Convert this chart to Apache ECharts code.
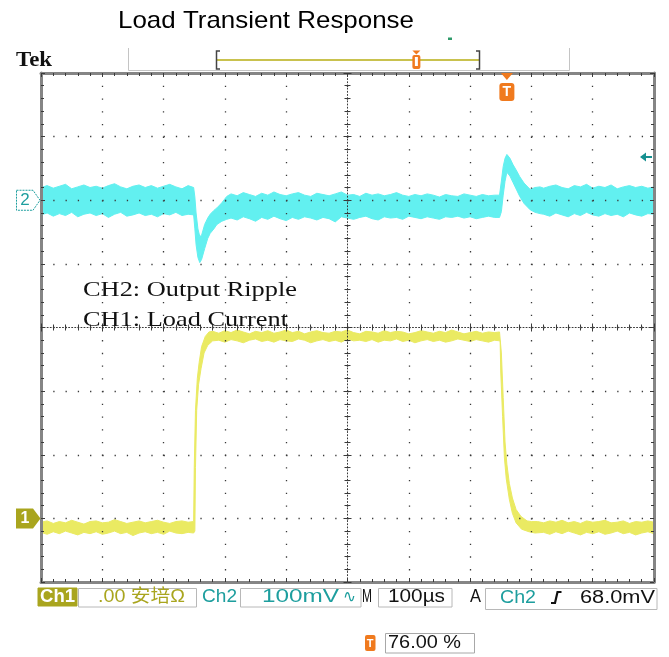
<!DOCTYPE html>
<html>
<head>
<meta charset="utf-8">
<title>Load Transient Response</title>
<script src="https://cdn.jsdelivr.net/npm/echarts@6/dist/echarts.min.js"></script>
<style>
  html, body { margin: 0; padding: 0; background: #ffffff; }
  #scope { width: 669px; height: 657px; }
</style>
</head>
<body>
<div id="scope"></div>
<script>
// ---- Horizontal: 10 divisions at 100 µs/div ----
const timeStart = 0, timeEnd = 1000, timePerDiv = 100;
// ---- Graticule: 8 vertical divisions around the centre line ----
const divMin = -4, divMax = 4;
// ---- CH2 (output ripple), 100 mV/div, ground marker 2 div above centre ----
const ch2Min = -600, ch2Max = 200;
// ---- CH1 (load current) in divisions, ground marker 3 div below centre ----
const ch1Min = -1, ch1Max = 7;

const triggerPercent = 76;   // trigger point position in the record, %
const triggerLevel = 68.0;   // CH2 trigger level, mV

const ch1ScaleText = '.00 安培Ω';
const ch2ScaleText = '100mV';
const timeScaleText = '100µs';

// CH2 trace envelope (µs, mV)
const ch2Time = [
  0, 10, 20, 30, 40, 50, 60, 70, 80, 90, 100, 110, 120, 130, 140, 150, 160, 170, 180, 190, 200, 210, 220, 230, 240, 249,
  251, 253, 256, 259, 262, 267, 272, 276, 282, 287, 295, 303,
  310, 320, 330, 340, 350, 360, 370, 380, 390, 400, 410, 420, 430, 440, 450, 460, 470, 480, 490, 500, 510, 520,
  530, 540, 550, 560, 570, 580, 590, 600, 610, 620, 630, 640, 650, 660, 670, 680, 690, 700, 710, 720, 730, 740, 748,
  751, 754, 757, 760, 765, 770, 776, 781, 788, 798, 806, 814,
  820, 830, 840, 850, 860, 870, 880, 890, 900, 910, 920, 930, 940, 950, 960, 970, 980, 990, 1000
];
const ch2High = [
  20, 23, 19, 22, 25, 18, 21, 24, 20, 22, 19, 23, 26, 21, 18, 22, 24, 20, 23, 19, 22, 25, 21, 18, 23, 20,
  5, -20, -45, -57, -55, -38, -28, -22, -16, -12, -4, 6,
  10, 7, 12, 9, 6, 11, 8, 13, 9, 7, 10, 12, 8, 6, 11, 9, 7, 10, 13, 8, 9, 6,
  11, 8, 10, 7, 9, 12, 8, 6, 9, 7, 10, 8, 5, 9, 7, 6, 10, 8, 6, 9, 7, 8, 8,
  30, 53, 66, 72, 66, 56, 46, 37, 27, 17, 20, 21,
  19, 22, 24, 20, 18, 23, 21, 25, 19, 22, 20, 24, 18, 21, 23, 20, 22, 19, 21
];
const ch2Low = [
  -23, -20, -25, -21, -24, -19, -26, -22, -20, -24, -21, -27, -22, -19, -25, -23, -20, -24, -22, -26, -21, -23, -19, -24, -22, -23,
  -45, -70, -90, -98, -93, -76, -60, -52, -45, -38, -33, -30,
  -28, -31, -26, -29, -33, -27, -30, -25, -29, -32, -27, -30, -26, -28, -31, -27, -29, -34, -26, -28, -30, -27,
  -25, -29, -31, -26, -28, -27, -30, -25, -27, -29, -26, -28, -30, -26, -27, -25, -28, -26, -29, -27, -25, -27, -27,
  -18, 8, 30, 44, 38, 28, 16, 6, -5, -15, -19, -21,
  -22, -25, -20, -23, -26, -21, -24, -19, -23, -25, -21, -24, -22, -26, -20, -23, -25, -21, -22
];

// CH1 trace envelope (µs, divisions)
const ch1HighTime = [
  0, 10, 20, 30, 40, 50, 60, 70, 80, 90, 100, 110, 120, 130, 140, 150, 160, 170, 180, 190, 200, 210, 220, 230, 240,
  249, 250, 252, 255, 258, 262, 268, 274,
  280, 290, 300, 310, 320, 330, 340, 350, 360, 370, 380, 390, 400, 410, 420, 430, 440, 450, 460, 470, 480, 490, 500, 510,
  520, 530, 540, 550, 560, 570, 580, 590, 600, 610, 620, 630, 640, 650, 660, 670, 680, 690, 700, 710, 720, 730, 740,
  748, 751, 754, 757, 760, 764, 769, 775, 783, 793, 800,
  810, 820, 830, 840, 850, 860, 870, 880, 890, 900, 910, 920, 930, 940, 950, 960, 970, 980, 990, 1000
];
const ch1High = [
  -0.06, -0.04, -0.08, -0.05, -0.07, -0.03, -0.06, -0.09, -0.05, -0.04, -0.07, -0.06, -0.02, -0.05, -0.08, -0.06, -0.04, -0.07, -0.05, -0.03, -0.06, -0.08, -0.05, -0.04, -0.06,
  -0.05, 0.8, 1.7, 2.2, 2.45, 2.7, 2.86, 2.93,
  2.94, 2.91, 2.95, 2.92, 2.96, 2.93, 2.9, 2.94, 2.92, 2.95, 2.91, 2.93, 2.96, 2.92, 2.94, 2.9, 2.93, 2.95, 2.92, 2.91, 2.94, 2.93, 2.96, 2.92,
  2.9, 2.94, 2.93, 2.91, 2.95, 2.92, 2.94, 2.93, 2.9, 2.92, 2.95, 2.93, 2.91, 2.94, 2.92, 2.96, 2.93, 2.9, 2.92, 2.94, 2.91, 2.93, 2.92,
  2.93, 2.6, 1.9, 1.2, 0.85, 0.55, 0.32, 0.14, 0.03, -0.04, -0.05,
  -0.05, -0.07, -0.04, -0.06, -0.03, -0.07, -0.05, -0.08, -0.04, -0.06, -0.05, -0.03, -0.07, -0.06, -0.04, -0.08, -0.05, -0.06, -0.04, -0.06
];
const ch1LowTime = [
  0, 10, 20, 30, 40, 50, 60, 70, 80, 90, 100, 110, 120, 130, 140, 150, 160, 170, 180, 190, 200, 210, 220, 230, 240,
  249, 251, 252, 254, 257, 261, 266, 272, 280,
  290, 300, 310, 320, 330, 340, 350, 360, 370, 380, 390, 400, 410, 420, 430, 440, 450, 460, 470, 480, 490, 500, 510,
  520, 530, 540, 550, 560, 570, 580, 590, 600, 610, 620, 630, 640, 650, 660, 670, 680, 690, 700, 710, 720, 730, 740,
  749, 750, 753, 756, 759, 764, 769, 775, 784, 796, 806,
  820, 830, 840, 850, 860, 870, 880, 890, 900, 910, 920, 930, 940, 950, 960, 970, 980, 990, 1000
];
const ch1Low = [
  -0.22, -0.25, -0.21, -0.24, -0.2, -0.23, -0.26, -0.22, -0.24, -0.21, -0.25, -0.23, -0.2, -0.24, -0.22, -0.27, -0.23, -0.21, -0.24, -0.22, -0.25, -0.2, -0.23, -0.24, -0.22,
  -0.23, -0.2, 0.8, 1.7, 2.1, 2.35, 2.6, 2.72, 2.79,
  2.8, 2.77, 2.81, 2.79, 2.76, 2.8, 2.82, 2.78, 2.8, 2.77, 2.81, 2.79, 2.78, 2.82, 2.8, 2.76, 2.79, 2.81, 2.78, 2.8, 2.77, 2.82, 2.79,
  2.8, 2.78, 2.81, 2.77, 2.8, 2.79, 2.82, 2.78, 2.8, 2.76, 2.79, 2.81, 2.78, 2.8, 2.77, 2.79, 2.82, 2.8, 2.78, 2.81, 2.79, 2.77, 2.8,
  2.79, 2.3, 1.6, 0.95, 0.62, 0.3, 0.08, -0.07, -0.17, -0.21, -0.23,
  -0.22, -0.25, -0.21, -0.24, -0.2, -0.23, -0.26, -0.22, -0.24, -0.21, -0.25, -0.23, -0.2, -0.24, -0.22, -0.26, -0.23, -0.21, -0.24
];

// ---- colours ----
const CYAN = '#62f0f0';
const YELLOW = '#eaea62';
const TEAL = '#1d9e9e';
const OLIVE = '#a9a51e';
const ORANGE = '#f07a1e';
const DOT = '#3a3a3a';
const SANS = "'Liberation Sans', Arial, 'DejaVu Sans', 'Noto Sans CJK SC', sans-serif";
const SERIF = "'Liberation Serif', 'Times New Roman', serif";

const frameLine = { show: true, onZero: false, lineStyle: { color: '#858585', width: 3 } };
const tickIn = { show: true, inside: true, length: 4, lineStyle: { color: DOT, width: 1 } };
const tickOut = { show: true, inside: false, length: 4, lineStyle: { color: DOT, width: 1 } };
const minor = { show: true, splitNumber: 5, length: 3, lineStyle: { color: DOT, width: 1 } };

function xAx(extra) {
  return Object.assign({
    type: 'value', min: timeStart, max: timeEnd, interval: timePerDiv, z: 5,
    axisLabel: { show: false }, splitLine: { show: false },
    axisTick: { show: false }, minorTick: { show: false },
    axisLine: { show: false, onZero: false }
  }, extra);
}
function yAx(extra) {
  return Object.assign({
    type: 'value', min: divMin, max: divMax, interval: 1, z: 5,
    axisLabel: { show: false }, splitLine: { show: false },
    axisTick: { show: false }, minorTick: { show: false },
    axisLine: { show: false, onZero: false }
  }, extra);
}

// Noise band of a trace: upper envelope left to right, lower envelope back
function trace(name, upT, upV, loT, loV, yIdx, color) {
  return {
    type: 'custom', name: name, xAxisIndex: 0, yAxisIndex: yIdx, clip: true, z: 2,
    data: upT.map((t, i) => [t, upV[i]]),
    renderItem: function (params, api) {
      if (params.dataIndex !== 0) return null;
      const pts = [];
      for (let i = 0; i < upT.length; i++) pts.push(api.coord([upT[i], upV[i]]));
      for (let i = loT.length - 1; i >= 0; i--) pts.push(api.coord([loT[i], loV[i]]));
      return { type: 'polygon', shape: { points: pts }, style: { fill: color, stroke: color, lineWidth: 1 } };
    }
  };
}

const option = {
  animation: false,
  backgroundColor: '#ffffff',
  grid: { left: 41, top: 73, width: 613, height: 509, show: false },
  xAxis: [
    xAx({ position: 'bottom', axisLine: frameLine, axisTick: tickIn, minorTick: minor,
          splitLine: { show: true, lineStyle: { color: DOT, width: 1.3, type: [1.3, 11.42] } } }),
    xAx({ position: 'top', axisLine: frameLine, axisTick: tickIn, minorTick: minor }),
    xAx({ position: 'bottom', offset: -254.5,
          axisLine: { show: true, onZero: false, lineStyle: { color: DOT, width: 1, type: [1, 2.07] } },
          axisTick: tickIn, minorTick: minor }),
    xAx({ position: 'bottom', offset: -254.5, axisTick: tickOut, minorTick: minor })
  ],
  yAxis: [
    yAx({ position: 'left', axisLine: frameLine, axisTick: tickIn, minorTick: minor,
          splitLine: { show: true, lineStyle: { color: DOT, width: 1.3, type: [1.3, 10.96] } } }),
    yAx({ position: 'right', axisLine: frameLine, axisTick: tickIn, minorTick: minor }),
    yAx({ position: 'left', offset: -306.5,
          axisLine: { show: true, onZero: false, lineStyle: { color: DOT, width: 1, type: [1, 2.18] } },
          axisTick: tickIn, minorTick: minor }),
    yAx({ position: 'left', offset: -306.5, axisTick: tickOut, minorTick: minor }),
    { type: 'value', min: ch2Min, max: ch2Max, show: false },
    { type: 'value', min: ch1Min, max: ch1Max, show: false }
  ],
  series: [
    trace('CH2', ch2Time, ch2High, ch2Time, ch2Low, 4, CYAN),
    trace('CH1', ch1HighTime, ch1High, ch1LowTime, ch1Low, 5, YELLOW)
  ]
};

const chart = echarts.init(document.getElementById('scope'), null, { renderer: 'canvas' });
chart.setOption(option);

// ---- screen annotations ----
const measureCtx = document.createElement('canvas').getContext('2d');
function fitText(str, x0, x1, yc, size, family, weight, color) {
  const font = weight + ' ' + size + 'px ' + family;
  measureCtx.font = font;
  const w = measureCtx.measureText(str).width || 1;
  return {
    type: 'text', x: x0, y: yc, scaleX: (x1 - x0) / w, z: 20,
    style: { text: str, font: font, fill: color, align: 'left', verticalAlign: 'middle',
             textAlign: 'left', textVerticalAlign: 'middle' }
  };
}
function centerText(str, x, y, size, weight, color) {
  return {
    type: 'text', x: x, y: y, z: 21,
    style: { text: str, font: weight + ' ' + size + 'px ' + SANS, fill: color,
             align: 'center', verticalAlign: 'middle', textAlign: 'center', textVerticalAlign: 'middle' }
  };
}
function box(x, y, w, h, stroke, fill) {
  return { type: 'rect', z: 19, shape: { x: x, y: y, width: w, height: h },
           style: { fill: fill || '#ffffff', stroke: stroke, lineWidth: 1 } };
}

const triggerTime = timeStart + triggerPercent / 100 * (timeEnd - timeStart);
const xt = chart.convertToPixel({ xAxisIndex: 0 }, triggerTime);
const y2 = chart.convertToPixel({ yAxisIndex: 4 }, 0);
const y1 = chart.convertToPixel({ yAxisIndex: 5 }, 0);
const yl = chart.convertToPixel({ yAxisIndex: 4 }, triggerLevel);

const barL = 216.5, barR = 479.5;
const xm = barL + triggerPercent / 100 * (barR - barL);

const g = [];
// title and header
g.push(fitText('Load Transient Response', 118, 414, 21, 24, SANS, 'normal', '#000000'));
g.push(fitText('Tek', 16, 52, 61, 21, SERIF, 'bold', '#111111'));
g.push({ type: 'polyline', z: 18, shape: { points: [[128.5, 48], [128.5, 70.5], [569.5, 70.5], [569.5, 48]] },
         style: { stroke: '#c4c4c4', lineWidth: 1, fill: null } });
g.push({ type: 'line', z: 18, shape: { x1: barL, y1: 60, x2: barR, y2: 60 }, style: { stroke: '#c9c24e', lineWidth: 2 } });
g.push({ type: 'polyline', z: 19, shape: { points: [[barL + 3.5, 51], [barL, 51], [barL, 69], [barL + 3.5, 69]] },
         style: { stroke: '#444444', lineWidth: 1.5, fill: null } });
g.push({ type: 'polyline', z: 19, shape: { points: [[barR - 3.5, 51], [barR, 51], [barR, 69], [barR - 3.5, 69]] },
         style: { stroke: '#444444', lineWidth: 1.5, fill: null } });
g.push({ type: 'polygon', z: 19, shape: { points: [[xm - 4, 50.5], [xm + 4, 50.5], [xm, 54.5]] }, style: { fill: ORANGE } });
g.push({ type: 'rect', z: 19, shape: { x: xm - 4, y: 55, width: 8, height: 14, r: 2 }, style: { fill: ORANGE } });
g.push({ type: 'rect', z: 20, shape: { x: xm - 1.5, y: 57, width: 3, height: 9 }, style: { fill: '#ffffff' } });
g.push({ type: 'rect', z: 19, shape: { x: 448, y: 37.5, width: 4, height: 2.5 }, style: { fill: '#2e9a6a' } });

// trigger point marker
g.push({ type: 'polygon', z: 19, shape: { points: [[xt - 6, 73], [xt + 6, 73], [xt, 80]] }, style: { fill: ORANGE } });
g.push({ type: 'rect', z: 19, shape: { x: xt - 7.5, y: 83, width: 15, height: 18, r: 3 }, style: { fill: ORANGE } });
g.push(centerText('T', xt, 92.5, 14, 'bold', '#ffffff'));

// trigger level arrow
g.push({ type: 'polygon', z: 19, shape: { points: [[640, yl], [646, yl - 4.5], [646, yl + 4.5]] }, style: { fill: '#169090' } });
g.push({ type: 'line', z: 19, shape: { x1: 645, y1: yl, x2: 652, y2: yl }, style: { stroke: '#169090', lineWidth: 2 } });

// channel ground markers
g.push({ type: 'polygon', z: 19, shape: { points: [[16.5, y2 - 10], [33, y2 - 10], [40, y2], [33, y2 + 10], [16.5, y2 + 10]] },
         style: { fill: '#ffffff', stroke: TEAL, lineWidth: 1, lineDash: [2, 1] } });
g.push(centerText('2', 25, y2 + 0.5, 17, 'normal', TEAL));
g.push({ type: 'polygon', z: 19, shape: { points: [[16, y1 - 10], [33, y1 - 10], [40.5, y1], [33, y1 + 10], [16, y1 + 10]] },
         style: { fill: OLIVE } });
g.push(centerText('1', 25, y1 + 0.5, 16, 'bold', '#ffffff'));

// channel notes
g.push(fitText('CH2: Output Ripple', 83, 297, 290, 21, SERIF, 'normal', '#111111'));
g.push(fitText('CH1: Load Current', 83, 288, 320.5, 21, SERIF, 'normal', '#111111'));

// status bar
g.push(box(38, 588, 39, 18, OLIVE, OLIVE));
g.push(fitText('Ch1', 40, 75, 597.5, 18, SANS, 'bold', '#ffffff'));
g.push(box(78.5, 588.5, 118, 18.5, '#b8b8b8'));
g.push(fitText(ch1ScaleText, 98, 185, 597.5, 18, SANS, 'normal', OLIVE));
g.push(fitText('Ch2', 202, 237, 597.5, 18, SANS, 'normal', TEAL));
g.push(box(240.5, 588.5, 120.5, 18.5, '#b8b8b8'));
g.push(fitText(ch2ScaleText, 262, 339, 597.5, 18, SANS, 'normal', TEAL));
g.push(fitText('∿', 343, 356, 597.5, 17, "'DejaVu Sans', sans-serif", 'normal', TEAL));
g.push(fitText('M', 362, 372, 597.5, 18, SANS, 'normal', '#111111'));
g.push(box(378.5, 588.5, 73.5, 18.5, '#b8b8b8'));
g.push(fitText(timeScaleText, 388, 445, 597.5, 18, SANS, 'normal', '#111111'));
g.push(fitText('A', 470, 481, 597.5, 18, SANS, 'normal', '#111111'));
g.push(box(485.5, 588.5, 171.5, 21, '#b8b8b8'));
g.push(fitText('Ch2', 500, 536, 598.5, 18, SANS, 'normal', TEAL));
g.push({ type: 'polyline', z: 20, shape: { points: [[551, 603], [555, 603], [557.5, 592], [561.5, 592]] },
         style: { stroke: '#111111', lineWidth: 2.2, fill: null } });
g.push(fitText(triggerLevel.toFixed(1) + 'mV', 580, 655, 598.5, 18, SANS, 'normal', '#111111'));

// trigger position readout
g.push({ type: 'rect', z: 19, shape: { x: 365, y: 635, width: 10.5, height: 16, r: 2 }, style: { fill: ORANGE } });
g.push(centerText('T', 370.2, 643.5, 11, 'bold', '#ffffff'));
g.push(box(385.5, 633.5, 89, 19.5, '#a8a8a8'));
g.push(fitText(triggerPercent.toFixed(2) + ' %', 388, 461, 643.5, 18, SANS, 'normal', '#111111'));

chart.setOption({ graphic: { elements: g } });
</script>
</body>
</html>
